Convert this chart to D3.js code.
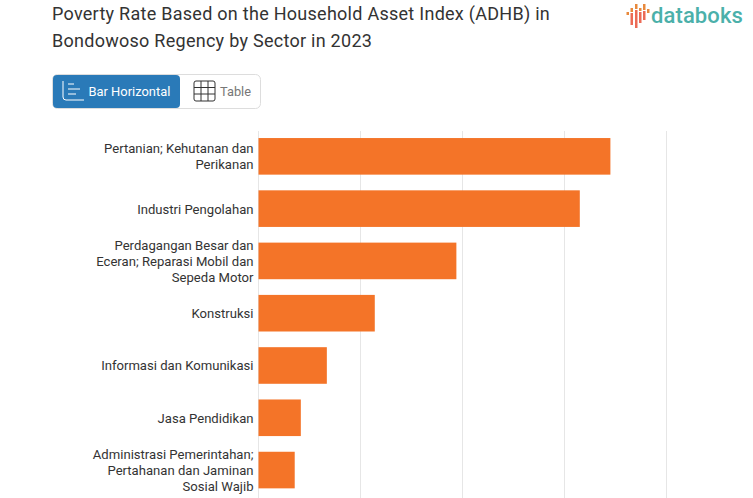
<!DOCTYPE html>
<html>
<head>
<meta charset="utf-8">
<script src="https://cdn.jsdelivr.net/npm/d3@7"></script>
<style>
  html, body { margin: 0; padding: 0; background: #fff; overflow: hidden; }
  text { font-family: Roboto, sans-serif; }
</style>
</head>
<body>
<div id="chart"></div>
<script>
const titleLines = ["Poverty Rate Based on the Household Asset Index (ADHB) in", "Bondowoso Regency by Sector in 2023"];
const categories = [
    ["Pertanian; Kehutanan dan", "Perikanan"],
    ["Industri Pengolahan"],
    ["Perdagangan Besar dan", "Eceran; Reparasi Mobil dan", "Sepeda Motor"],
    ["Konstruksi"],
    ["Informasi dan Komunikasi"],
    ["Jasa Pendidikan"],
    ["Administrasi Pemerintahan;", "Pertahanan dan Jaminan", "Sosial Wajib"]
];
const values = [34.5, 31.5, 19.4, 11.4, 6.7, 4.15, 3.55];
const gridTicks = [0, 10, 20, 30, 40];

const width = 753, height = 498;
const svg = d3.select("#chart").append("svg")
    .attr("width", width)
    .attr("height", height)
    .style("display", "block");

// title
svg.append("g")
    .selectAll("text")
    .data(titleLines)
    .join("text")
    .attr("x", 52)
    .attr("y", (d, i) => 19.6 + i * 27)
    .attr("font-size", 18)
    .attr("letter-spacing", 0.27)
    .attr("fill", "#333")
    .text(d => d);

// logo
const logo = svg.append("g");
const logoBars = [
    [626.5, 12, 3, "#e8893c"],
    [630.5, 8, 4, "#e8893c"], [630.5, 13, 12, "#ec6a55"],
    [635, 4, 5, "#e8893c"], [635, 10, 18, "#ec6a55"],
    [639, 8, 3, "#e8893c"], [639, 12, 11, "#ec6a55"],
    [643, 4, 6, "#e8893c"], [643, 11, 9, "#ec6a55"],
    [647, 9, 4, "#e8893c"]
];
logo.selectAll("rect")
    .data(logoBars)
    .join("rect")
    .attr("x", d => d[0])
    .attr("y", d => d[1])
    .attr("width", 2.5)
    .attr("height", d => d[2])
    .attr("fill", d => d[3]);
logo.append("text")
    .attr("x", 651)
    .attr("y", 23)
    .attr("font-size", 22)
    .attr("font-weight", 500)
    .attr("letter-spacing", 0.1)
    .attr("fill", "#4bb0aa")
    .text("databoks");

// chart type switch
const sw = svg.append("g");
sw.append("rect")
    .attr("x", 52.5).attr("y", 74.5)
    .attr("width", 208).attr("height", 34)
    .attr("rx", 5)
    .attr("fill", "#fff")
    .attr("stroke", "#ddd");
sw.append("rect")
    .attr("x", 53).attr("y", 75)
    .attr("width", 127).attr("height", 33)
    .attr("rx", 4)
    .attr("fill", "#2a7ab8");
sw.append("path")
    .attr("d", "M63 81V97Q63 100 66 100H84M68 84H74M68 89H80M68 94H76")
    .attr("fill", "none")
    .attr("stroke", "#fff");
sw.append("text")
    .attr("x", 88.5).attr("y", 96)
    .attr("font-size", 12.9)
    .attr("fill", "#fff")
    .text("Bar Horizontal");
sw.append("rect")
    .attr("x", 194).attr("y", 81)
    .attr("width", 21).attr("height", 20)
    .attr("rx", 2)
    .attr("fill", "none")
    .attr("stroke", "#333");
sw.append("path")
    .attr("d", "M201 81V101M208 81V101M194 87.5H215M194 94H215")
    .attr("fill", "none")
    .attr("stroke", "#333");
sw.append("text")
    .attr("x", 220).attr("y", 96)
    .attr("font-size", 12.8)
    .attr("fill", "#777")
    .text("Table");

// scales
const x = d3.scaleLinear().domain([0, 40]).range([258.5, 666.5]);
const y = d3.scaleBand().domain(d3.range(categories.length)).range([130.2, 496.2]).paddingInner(0.3).paddingOuter(0.15);

svg.append("g")
    .selectAll("line")
    .data(gridTicks)
    .join("line")
    .attr("x1", d => x(d))
    .attr("x2", d => x(d))
    .attr("y1", 131)
    .attr("y2", height)
    .attr("stroke", "#e6e6e6");

svg.append("g")
    .selectAll("rect")
    .data(values)
    .join("rect")
    .attr("x", x(0))
    .attr("y", (d, i) => y(i))
    .attr("width", d => x(d) - x(0))
    .attr("height", y.bandwidth())
    .attr("fill", "#f47428");

// category labels
const labels = svg.append("g")
    .selectAll("text")
    .data(categories)
    .join("text")
    .attr("text-anchor", "end")
    .attr("font-size", 13.1)
    .attr("fill", "#333");

labels.selectAll("tspan")
    .data((d, i) => d.map((t, j) => ({ t, j, n: d.length, i })))
    .join("tspan")
    .attr("x", 253.5)
    .attr("y", d => y(d.i) + y.bandwidth() / 2 + 5 + (d.j - (d.n - 1) / 2) * 16)
    .text(d => d.t);
</script>
</body>
</html>
